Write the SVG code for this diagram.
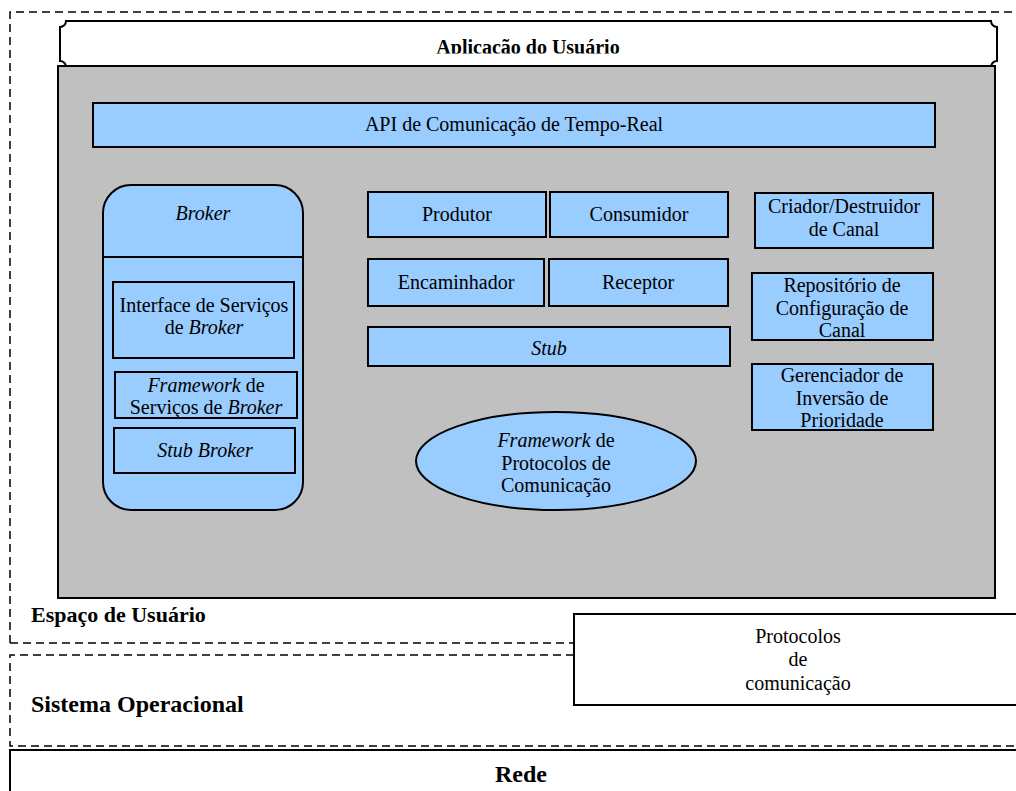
<svg xmlns="http://www.w3.org/2000/svg" width="1016" height="791" viewBox="0 0 1016 791">
  <style>
    .dash { fill: none; stroke: #000; stroke-width: 1.5; stroke-dasharray: 8 5; }
    .box { fill: #99CCFF; stroke: #000; stroke-width: 2; }
    .white { fill: #FFFFFF; stroke: #000; stroke-width: 2; }
    .gray { fill: #C0C0C0; stroke: #000; stroke-width: 2; }
    .t { font-family: "Liberation Serif", "Times New Roman", serif; font-size: 20px; fill: #000; text-anchor: middle; }
    .b { font-family: "Liberation Serif", "Times New Roman", serif; font-weight: bold; fill: #000; }
    .i { font-style: italic; }
  </style>
  <defs>
    <clipPath id="appClip">
      <rect x="60" y="20" width="940" height="33.5"/>
    </clipPath>
  </defs>

  <rect x="0" y="0" width="1016" height="791" fill="#FFFFFF"/>

  <!-- user space region -->
  <g id="espaco-usuario">
    <path class="dash" d="M10 643 V12 H1016"/>
    <path class="dash" d="M10 643 H574"/>
    <text class="b" x="31" y="622" font-size="22">Espaço de Usuário</text>
  </g>

  <!-- operating system region -->
  <g id="sistema-operacional">
    <path class="dash" d="M574 655 H10 V746 H1016"/>
    <text class="b" x="31" y="712" font-size="24">Sistema Operacional</text>
  </g>

  <!-- network -->
  <g id="rede">
    <rect class="white" x="10" y="750" width="1100" height="100"/>
    <text class="b" x="521" y="782" font-size="24" text-anchor="middle">Rede</text>
  </g>

  <!-- communication protocols -->
  <g id="protocolos">
    <rect class="white" x="574" y="614" width="500" height="91"/>
    <text class="t" x="798" y="643">Protocolos</text>
    <text class="t" x="798" y="666">de</text>
    <text class="t" x="798" y="690">comunicação</text>
  </g>

  <!-- user application plaque -->
  <g id="aplicacao">
    <path class="white" d="M66 21 H991 A6 6 0 0 0 997 27 V61 A6 6 0 0 0 991 67 H66 A6 6 0 0 0 60 61 V27 A6 6 0 0 0 66 21 Z"/>
    <text class="b" x="528" y="54" font-size="20" text-anchor="middle" clip-path="url(#appClip)">Aplicação do Usuário</text>
  </g>

  <!-- middleware container -->
  <g id="middleware">
    <rect class="gray" x="58" y="66" width="937" height="532"/>
  </g>

  <g id="api">
    <rect class="box" x="93" y="103" width="842" height="44"/>
    <text class="t" x="514" y="131">API de Comunicação de Tempo-Real</text>
  </g>

  <!-- broker -->
  <g id="broker">
    <rect class="box" x="103" y="185" width="200" height="325" rx="28" ry="28"/>
    <line x1="103" y1="257" x2="303" y2="257" stroke="#000" stroke-width="2"/>
    <text class="t i" x="203" y="220">Broker</text>
  </g>
  <g id="interface-servicos">
    <rect class="box" x="113" y="282" width="181" height="76"/>
    <text class="t" x="204" y="312">Interface de Serviços</text>
    <text class="t" x="204" y="334">de <tspan class="i">Broker</tspan></text>
  </g>
  <g id="framework-servicos">
    <rect class="box" x="115" y="372" width="182" height="46"/>
    <text class="t" x="206" y="392"><tspan class="i">Framework</tspan> de</text>
    <text class="t" x="206" y="414">Serviços de <tspan class="i">Broker</tspan></text>
  </g>
  <g id="stub-broker">
    <rect class="box" x="114" y="428" width="181" height="45"/>
    <text class="t i" x="205" y="457">Stub Broker</text>
  </g>

  <!-- channel components -->
  <g id="produtor">
    <rect class="box" x="368" y="192" width="178" height="45"/>
    <text class="t" x="457" y="221">Produtor</text>
  </g>
  <g id="consumidor">
    <rect class="box" x="550" y="192" width="178" height="45"/>
    <text class="t" x="639" y="221">Consumidor</text>
  </g>
  <g id="encaminhador">
    <rect class="box" x="368" y="259" width="176" height="47"/>
    <text class="t" x="456" y="289">Encaminhador</text>
  </g>
  <g id="receptor">
    <rect class="box" x="549" y="259" width="179" height="47"/>
    <text class="t" x="638" y="289">Receptor</text>
  </g>
  <g id="stub">
    <rect class="box" x="368" y="327" width="362" height="39"/>
    <text class="t i" x="549" y="355">Stub</text>
  </g>
  <g id="framework-protocolos">
    <ellipse class="box" cx="556" cy="461" rx="140" ry="49"/>
    <text class="t" x="556" y="447"><tspan class="i">Framework</tspan> de</text>
    <text class="t" x="556" y="470">Protocolos de</text>
    <text class="t" x="556" y="492">Comunicação</text>
  </g>

  <!-- channel management -->
  <g id="criador-destruidor">
    <rect class="box" x="755" y="193" width="178" height="55"/>
    <text class="t" x="844" y="213">Criador/Destruidor</text>
    <text class="t" x="844" y="236">de Canal</text>
  </g>
  <g id="repositorio">
    <rect class="box" x="752" y="273" width="181" height="67"/>
    <text class="t" x="842" y="292">Repositório de</text>
    <text class="t" x="842" y="315">Configuração de</text>
    <text class="t" x="842" y="337">Canal</text>
  </g>
  <g id="gerenciador">
    <rect class="box" x="752" y="364" width="181" height="66"/>
    <text class="t" x="842" y="382">Gerenciador de</text>
    <text class="t" x="842" y="405">Inversão de</text>
    <text class="t" x="842" y="427">Prioridade</text>
  </g>
</svg>
